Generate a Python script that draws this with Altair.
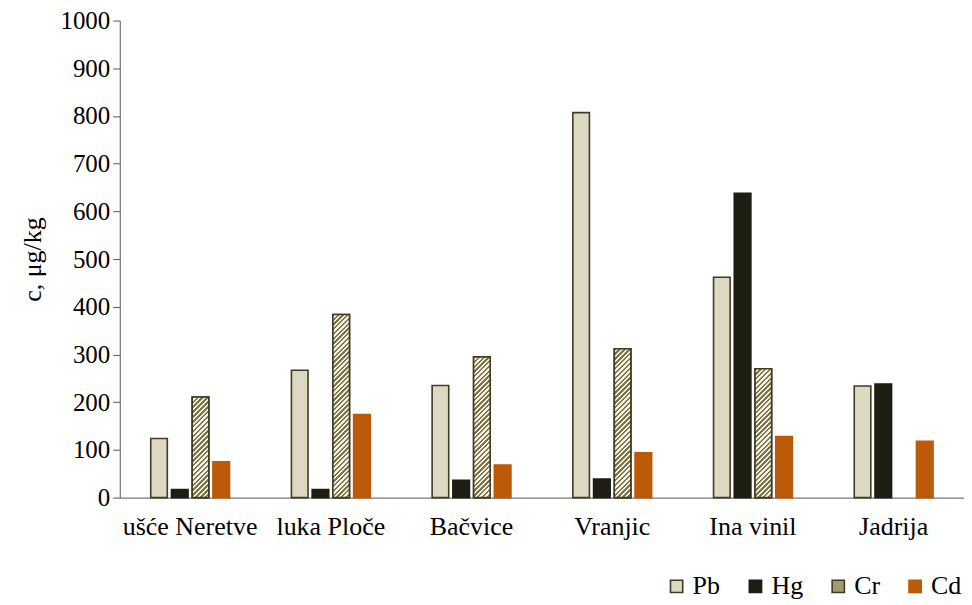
import math
import altair as alt
import pandas as pd

# ---- data ----
locations = ["ušće Neretve", "luka Ploče", "Bačvice", "Vranjic", "Ina vinil", "Jadrija"]
metals = ["Pb", "Hg", "Cr", "Cd"]
pb = [124, 267, 235, 807, 462, 234]
hg = [17, 17, 36, 39, 638, 238]
cr = [211, 384, 295, 312, 270, 0]
cd = [75, 174, 68, 94, 128, 118]

# ---- styling ----
fills = ["#ddd8c2", "#1e1d12", "#a39a70", "#bb5a09"]
strokes = ["#403c24", "#1e1d12", "#403c24", "#bb5a09"]
HATCH_DARK = "#7f764c"
HATCH_LIGHT = "#f5f2e8"
FONT = "Liberation Serif, Times New Roman, Times, serif"

W, H = 846, 478
YMAX = 1000
PAD_IN, PAD_OUT = 0.44, 0.22
OFF_PAD = 0.2

rows = []
for i, loc in enumerate(locations):
    for m, vals in zip(metals, [pb, hg, cr, cd]):
        rows.append({"location": loc, "metal": m, "value": vals[i]})
df = pd.DataFrame(rows)

step = W / (len(locations) - PAD_IN + 2 * PAD_OUT)
band = step * (1 - PAD_IN)
bar_w = band / (len(metals) - OFF_PAD) * (1 - OFF_PAD)


def hatch(w, h, period=3.4):
    c = (w + h) / (w * w + h * h)
    n = max(1, round((w + h) / (period * math.sqrt(2))))
    stops = []
    for k in range(n):
        a, b, e = k / n, (k + 0.5) / n, (k + 1) / n
        stops += [
            {"offset": a, "color": HATCH_DARK},
            {"offset": b, "color": HATCH_DARK},
            {"offset": b, "color": HATCH_LIGHT},
            {"offset": e, "color": HATCH_LIGHT},
        ]
    return {"gradient": "linear", "x1": 0, "y1": 0, "x2": c * w, "y2": c * h, "stops": stops}


x_enc = alt.X(
    "location:N",
    sort=locations,
    scale=alt.Scale(domain=locations, paddingInner=PAD_IN, paddingOuter=PAD_OUT),
    axis=alt.Axis(title=None, labelAngle=0, ticks=False, labelPadding=16, labelFontSize=26,
                  labelFont=FONT),
)
xo_enc = alt.XOffset("metal:N", sort=metals,
                     scale=alt.Scale(domain=metals, paddingInner=OFF_PAD, paddingOuter=0))
y_enc = alt.Y(
    "value:Q",
    scale=alt.Scale(domain=[0, YMAX], nice=False),
    axis=alt.Axis(title="c,  μg/kg", values=list(range(0, YMAX + 1, 100)), format="d", grid=False,
                  tickSize=7, labelPadding=3, labelFontSize=25, titleFontSize=26,
                  labelFont=FONT, titleFont=FONT,
                  titleFontWeight="normal", titlePadding=14, labelFlush=False),
)

legend = alt.Legend(
    title=None, orient="none", direction="horizontal", legendX=545, legendY=H + 76,
    symbolType="square", symbolSize=150, symbolStrokeWidth=1.6,
    labelFont=FONT, labelFontSize=26, labelOffset=3, columnPadding=22,
)

base = alt.Chart(df).transform_filter("datum.value > 0").mark_bar(strokeWidth=1.6).encode(
    x=x_enc,
    xOffset=xo_enc,
    y=y_enc,
    color=alt.Color("metal:N", sort=metals, scale=alt.Scale(domain=metals, range=fills), legend=legend),
    stroke=alt.Stroke("metal:N", sort=metals, scale=alt.Scale(domain=metals, range=strokes), legend=legend),
)

layers = [base]
for loc, v in zip(locations, cr):
    if v <= 0:
        continue
    h = v / YMAX * H
    layer = alt.Chart(df).transform_filter(
        f"datum.location === '{loc}' && datum.metal === 'Cr'"
    ).mark_bar(fill=hatch(bar_w, h), stroke="#403c24", strokeWidth=1.6).encode(
        x=alt.X("location:N", sort=locations), xOffset=alt.XOffset("metal:N", sort=metals), y="value:Q"
    )
    layers.append(layer)

chart = alt.layer(*layers).properties(
    width=W, height=H, padding={"left": 12, "top": 0, "right": 0, "bottom": 0}
).configure(font=FONT).configure_view(stroke=None).configure_axis(
    domainColor="#555555", tickColor="#555555", labelColor="#000000", titleColor="#000000",
    labelFont=FONT, titleFont=FONT,
).configure_legend(labelFont=FONT, labelColor="#000000")

chart.save("out.html", embed_options={"renderer": "svg", "actions": False})
